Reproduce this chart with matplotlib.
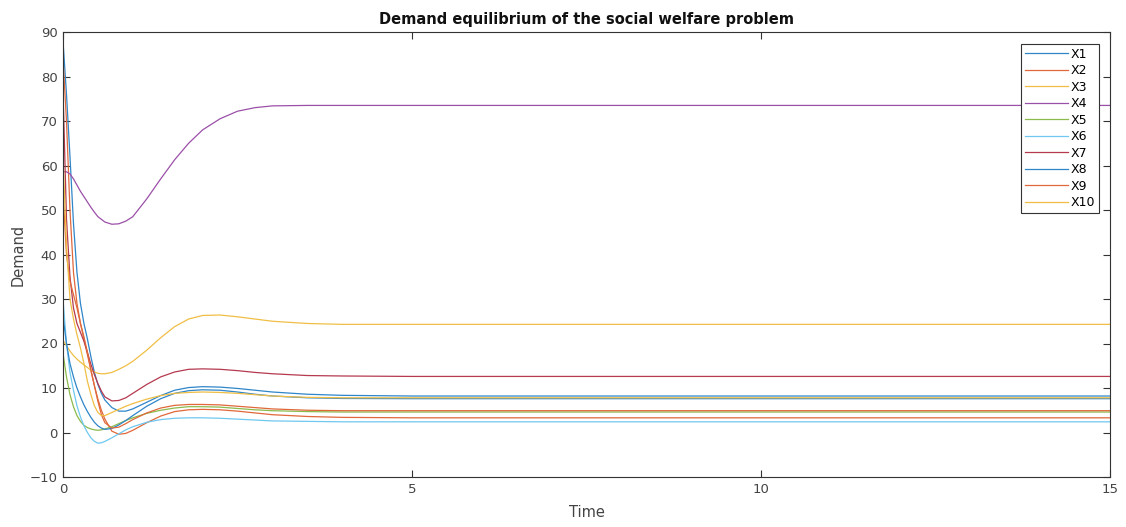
import matplotlib
matplotlib.use("Agg")
import matplotlib.pyplot as plt

# Time grid
t = [0, 0.05, 0.1, 0.15, 0.2, 0.25, 0.3, 0.35, 0.4, 0.45, 0.5, 0.55, 0.6, 0.7, 0.8,
     0.9, 1.0, 1.2, 1.4, 1.6, 1.8, 2.0, 2.25, 2.5, 2.75, 3.0, 3.5, 4.0, 5, 15]

X1 = [88, 76, 62, 47, 36, 29, 24.5, 21, 17, 13.5, 10.8, 8.8, 7.3, 5.6, 4.8,
      4.8, 5.3, 6.8, 8.3, 9.5, 10.1, 10.3, 10.2, 9.9, 9.5, 9.1, 8.6, 8.35, 8.2, 8.2]
X2 = [84, 70, 50, 36, 29, 24.5, 21, 17.5, 14, 10.5, 7.5, 5, 3, 0.3, -0.4,
      -0.2, 0.5, 2.2, 3.7, 4.7, 5.1, 5.2, 5.1, 4.8, 4.4, 4.0, 3.6, 3.4, 3.3, 3.3]
X3 = [20.7, 19.5, 18.3, 17.3, 16.5, 15.8, 15.2, 14.6, 14.0, 13.6, 13.3, 13.2, 13.2, 13.5, 14.2,
      15.0, 16.0, 18.5, 21.3, 23.8, 25.5, 26.3, 26.4, 26.0, 25.5, 25.0, 24.5, 24.3, 24.3, 24.3]
X4 = [58.6, 58.6, 58.1, 57, 55.6, 54.2, 53, 51.8, 50.6, 49.5, 48.5, 47.9, 47.3, 46.8, 46.9,
      47.5, 48.5, 52.5, 57, 61.3, 65, 68, 70.5, 72.2, 73.0, 73.4, 73.5, 73.5, 73.5, 73.5]
X5 = [17.8, 12.5, 8.5, 5.8, 3.8, 2.5, 1.6, 1.1, 0.8, 0.6, 0.5, 0.6, 0.8, 1.3, 2.0,
      2.7, 3.3, 4.3, 5.0, 5.5, 5.8, 5.8, 5.7, 5.4, 5.1, 4.9, 4.7, 4.6, 4.6, 4.6]
X6 = [30, 20, 13.5, 9.5, 6, 3.5, 1.5, 0, -1.2, -2.0, -2.4, -2.3, -2.0, -1.2, -0.3,
      0.6, 1.3, 2.3, 2.9, 3.2, 3.3, 3.3, 3.2, 3.0, 2.8, 2.6, 2.5, 2.4, 2.4, 2.4]
X7 = [77, 48, 35, 28, 24.5, 22.5, 20.5, 18, 15.3, 13, 11, 9.3, 8, 7.1, 7.2,
      7.8, 8.8, 10.8, 12.5, 13.6, 14.2, 14.3, 14.2, 13.9, 13.5, 13.2, 12.8, 12.7, 12.6, 12.6]
X8 = [26, 20, 15.5, 12.5, 10, 8, 6.2, 4.7, 3.4, 2.3, 1.5, 1.0, 0.7, 0.9, 1.7,
      2.7, 3.8, 5.9, 7.6, 8.8, 9.4, 9.6, 9.5, 9.1, 8.6, 8.2, 7.8, 7.65, 7.6, 7.6]
X9 = [54, 40, 34, 31, 28, 24.5, 21.5, 18, 14, 10.5, 7, 4, 2.2, 1.0, 1.2,
      2.0, 2.9, 4.4, 5.5, 6.1, 6.3, 6.3, 6.2, 5.9, 5.6, 5.3, 5.0, 4.9, 4.9, 4.9]
X10 = [62, 42, 30, 25.5, 22, 19, 15.5, 11.5, 8.5, 6, 4.5, 3.8, 3.8, 4.5, 5.2,
       5.9, 6.5, 7.5, 8.3, 8.8, 9.0, 9.1, 9.0, 8.8, 8.5, 8.2, 7.9, 7.8, 7.8, 7.8]

series = [X1, X2, X3, X4, X5, X6, X7, X8, X9, X10]
labels = ["X1", "X2", "X3", "X4", "X5", "X6", "X7", "X8", "X9", "X10"]
colors = ["#2f86c9", "#e0683a", "#f0be45", "#9b50a8", "#8cbb4c",
          "#6fc8f0", "#b53a4f", "#2f86c9", "#e0683a", "#f0be45"]

plt.rcParams['font.family'] = ['DejaVu Sans']
fig = plt.figure(figsize=(11.26, 5.27), dpi=100)
ax = fig.add_axes([63/1126, 1-477/527, (1110-63)/1126, (477-32)/527])

for y, lab, c in zip(series, labels, colors):
    ax.plot(t, y, color=c, linewidth=0.9, label=lab)

ax.set_xlim(0, 15)
ax.set_ylim(-10, 90)
ax.set_xticks([0, 5, 10, 15])
ax.set_yticks(range(-10, 91, 10))
ax.tick_params(direction='in', length=5, width=0.8, colors='#333333',
               labelsize=9.5, top=True, right=True, labelcolor='#444444', pad=4)
for s in ax.spines.values():
    s.set_color('#333333')
    s.set_linewidth(0.8)

ax.set_title("Demand equilibrium of the social welfare problem",
             fontsize=10.5, fontweight='bold', color='#111111', pad=6)
ax.set_xlabel("Time", fontsize=10.5, color='#444444', labelpad=7)
ax.set_ylabel("Demand", fontsize=10.5, color='#444444', labelpad=3)

leg = ax.legend(loc='upper right', bbox_to_anchor=(0.9895, 0.973), fontsize=9,
                handlelength=3.4, handletextpad=0.25, labelspacing=0.28,
                borderpad=0.3, borderaxespad=0.0, fancybox=False, framealpha=1)
leg.get_frame().set_edgecolor('#333333')
leg.get_frame().set_linewidth(0.8)

fig.savefig("out.png", dpi=100)
